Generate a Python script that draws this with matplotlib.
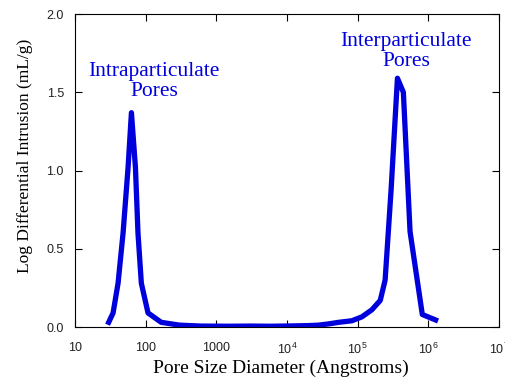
import numpy as np
import matplotlib.pyplot as plt
from matplotlib.ticker import FixedLocator, FixedFormatter, NullLocator

# pore diameter (Angstroms) and log differential intrusion (mL/g)
diameter = [30, 34.6, 40.7, 47.9, 56.4, 62.9, 71.7, 77.9, 86.9, 108, 166, 300,
            600, 1500, 3000, 6000, 12000, 20000, 28000, 39000, 54000, 83000,
            115000, 159000, 209000, 245000, 298000, 366000, 444000, 552000,
            823000, 1270000]
intrusion = [0.03, 0.09, 0.28, 0.60, 1.02, 1.37, 1.02, 0.60, 0.28, 0.09, 0.03, 0.012,
             0.006, 0.005, 0.006, 0.005, 0.007, 0.009, 0.012, 0.02, 0.03, 0.04,
             0.065, 0.11, 0.17, 0.30, 0.88, 1.59, 1.50, 0.61,
             0.08, 0.045]

xticks = [10, 100, 1000, 1e4, 1e5, 1e6, 1e7]
xticklabels = ['10', '100', '1000', r'$\mathregular{10^4}$', r'$\mathregular{10^5}$',
               r'$\mathregular{10^6}$', r'$\mathregular{10^7}$']
yticks = [0.0, 0.5, 1.0, 1.5, 2.0]

fig = plt.figure(figsize=(5.05, 3.81), dpi=100)
ax = fig.add_axes([0.1485, 0.1417, 0.8395, 0.8213])

ax.plot(diameter, intrusion, color='#0000dd', linewidth=3.8)

ax.set_xscale('log')
ax.set_xlim(10, 1e7)
ax.set_ylim(0, 2.0)

ax.xaxis.set_major_locator(FixedLocator(xticks))
ax.xaxis.set_major_formatter(FixedFormatter(xticklabels))
ax.xaxis.set_minor_locator(NullLocator())
ax.set_yticks(yticks)
ax.set_yticklabels(['%.1f' % v for v in yticks])

ax.tick_params(direction='in', top=True, right=True, length=5, width=0.8,
               labelsize=9, colors='black')
ax.tick_params(axis='x', pad=11)
ax.tick_params(axis='y', pad=8)
for lab in ax.get_xticklabels() + ax.get_yticklabels():
    lab.set_family('Liberation Sans')
    lab.set_color('#222222')

ax.set_xlabel('Pore Size Diameter (Angstroms)', family='Liberation Serif', fontsize=14)
ax.set_ylabel('Log Differential Intrusion (mL/g)', family='Liberation Serif', fontsize=12.5)
ax.xaxis.set_label_coords(0.486, -0.105)
ax.yaxis.set_label_coords(-0.10, 0.548)

ax.text(132, 1.57, 'Intraparticulate\nPores', color='#0000dd', family='Liberation Serif',
        fontsize=15.5, ha='center', va='center', linespacing=1.05)
ax.text(490000, 1.76, 'Interparticulate\nPores', color='#0000dd', family='Liberation Serif',
        fontsize=15.5, ha='center', va='center', linespacing=1.05)

fig.savefig('out.png', dpi=100)
